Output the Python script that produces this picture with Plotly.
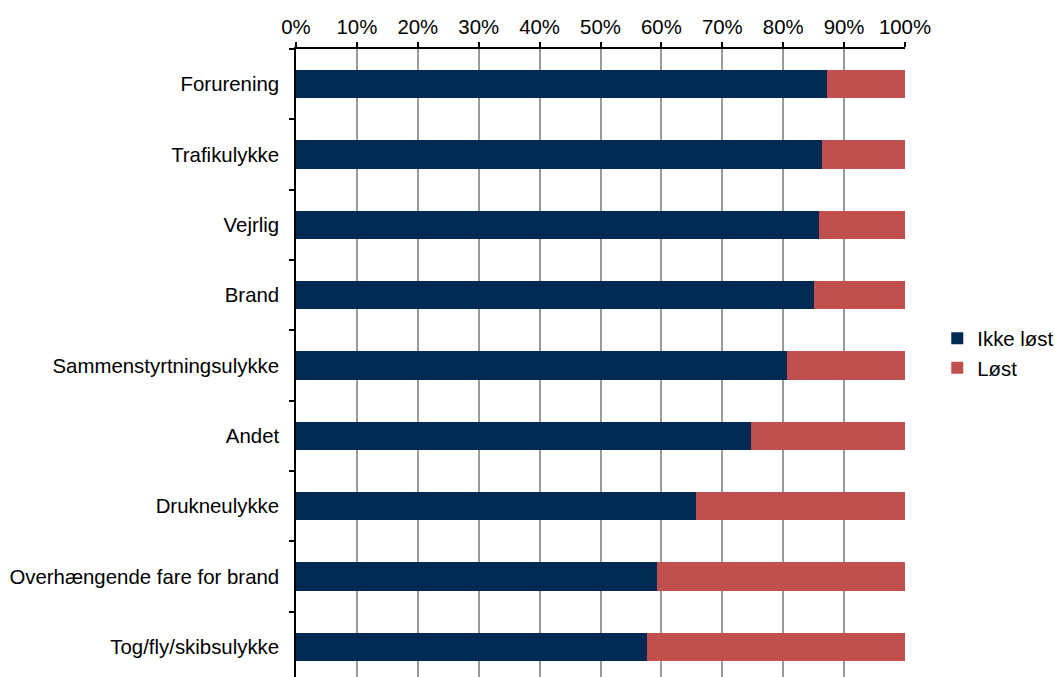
import plotly.graph_objects as go

categories = ["Forurening", "Trafikulykke", "Vejrlig", "Brand", "Sammenstyrtningsulykke",
              "Andet", "Drukneulykke", "Overhængende fare for brand", "Tog/fly/skibsulykke"]
ikke_lost = [87.2, 86.3, 85.8, 85.1, 80.6, 74.7, 65.7, 59.3, 57.6]
lost = [round(100 - v, 1) for v in ikke_lost]
x_ticks = list(range(0, 101, 10))
x_tick_labels = [f"{t}%" for t in x_ticks]

FONT = dict(family="Liberation Sans, Arial, sans-serif", size=20.4, color="#000000")

fig = go.Figure()
fig.add_trace(go.Bar(y=categories, x=ikke_lost, name="Ikke løst", orientation="h",
                     legendgroup="a", marker=dict(color="#002A54", line=dict(width=0))))
fig.add_trace(go.Bar(y=categories, x=lost, name="Løst", orientation="h",
                     legendgroup="b", marker=dict(color="#C0504D", line=dict(width=0))))

fig.update_layout(
    width=1055, height=677,
    barmode="stack", bargap=0.6,
    plot_bgcolor="white", paper_bgcolor="white",
    font=FONT,
    margin=dict(l=296, r=149.5, t=48.5, b=0, autoexpand=False),
    legend=dict(x=1.053, xanchor="left", y=0.515, yanchor="middle",
                traceorder="normal", font=dict(size=20.4), itemwidth=30,
                tracegroupgap=3),
    xaxis=dict(side="top", range=[0, 100], tickvals=x_ticks, ticktext=x_tick_labels,
               showgrid=True, gridcolor="#9a9a9a", gridwidth=1.5,
               showline=True, linecolor="#000000", linewidth=1.5,
               ticks="outside", ticklen=5, tickcolor="#000000", tickwidth=1.5,
               zeroline=False, fixedrange=True, automargin=False),
    yaxis=dict(categoryorder="array", categoryarray=categories,
               range=[8.43, -0.5],
               showline=True, linecolor="#000000", linewidth=1.5,
               ticks="outside", tickson="boundaries", ticklen=5, tickcolor="#000000",
               tickwidth=1.5, showgrid=False, ticklabelstandoff=11, fixedrange=True,
               automargin=False),
)

fig.write_html("out.html",
               config={"displayModeBar": False},
               post_script="document.body.style.margin='0';document.body.style.overflow='hidden';")
